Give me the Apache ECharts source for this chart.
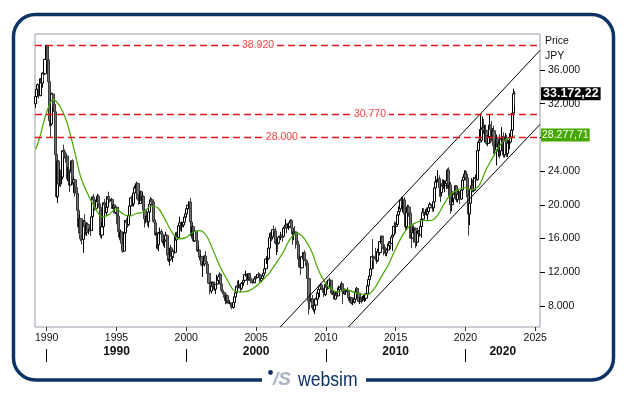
<!DOCTYPE html>
<html><head><meta charset="utf-8">
<script src="https://cdn.jsdelivr.net/npm/echarts@6/dist/echarts.min.js"></script>
<style>html,body{margin:0;padding:0;background:#fff}#c{width:629px;height:394px}</style>
</head><body><div id="c"></div>
<script>
// ---- data (Nikkei 225, monthly, read/estimated from the picture) ----
const startMonth = '1989-03';
const firstOpen = 31986;
const closes = [
32839,33714,34267,32949,34954,34431,35637,35549,37269,38916,
37189,34592,29980,29585,33131,31940,31036,25978,20984,25194,22455,23849,
23293,26409,26292,26111,25790,23291,24121,22336,23916,25222,22687,22984,
22023,21339,19346,17390,18348,15952,15910,18061,17399,16767,17684,16925,
17024,16953,18591,20919,20552,19590,20380,21027,20106,19704,16408,17417,
20229,19997,19112,19725,20974,20644,20462,20629,19564,19990,19076,19723,
18650,17053,16140,16807,15437,14517,16678,18117,17913,17655,18744,19868,
20813,20125,21407,22041,21956,22531,20692,20167,21556,20467,21020,19361,
18330,18557,18003,19151,20069,20605,20331,18229,17888,16459,16636,15259,
16628,16832,16527,15641,15671,15830,16379,14108,13406,13565,14884,13842,
14499,14368,15837,16702,16112,17530,17862,17437,17605,17942,18558,18934,
19540,19960,20337,17974,16332,17411,15727,16861,15747,14539,14649,13786,
13843,12883,12999,13934,13262,12969,11861,10713,9775,10366,10697,10543,
9997,10587,11025,11493,11764,10622,9877,9619,9383,8640,9216,8579,
8340,8363,7973,7831,8425,9083,9563,10344,10219,10560,10101,10677,
10783,11042,11715,11762,11236,11859,11326,11082,10824,10771,11231,11489,
11388,11741,11669,11009,11277,11584,11900,12414,13574,13607,14872,16111,
16650,16205,17060,16906,15467,15506,15457,16141,16128,16399,16274,17226,
17383,17604,17288,17400,17876,18138,17249,16569,16786,16738,15681,15308,
13592,13603,12526,13850,14339,13481,13377,13073,11260,8577,8512,8860,
7994,7568,8110,8828,9523,9958,10357,10493,10133,10035,9346,10546,
10198,10126,11090,11057,9769,9383,9537,8824,9369,9202,9937,10229,
10238,10624,9755,9850,9694,9816,9833,8955,8700,8988,8435,8455,
8803,9723,10084,9521,8543,9007,8695,8840,8870,8928,9446,10395,
11139,11559,12398,13861,13775,13677,13668,13389,14456,14328,15662,16291,
14915,14841,14828,14304,14632,15162,15621,15425,16174,16414,17460,17451,
17674,18798,19207,19520,20563,20236,20585,18890,17388,19083,19747,19034,
17518,16027,16759,16666,17235,15576,16569,16887,16450,17425,18308,19114,
19041,19119,18909,19197,19651,20033,19925,19646,20356,22012,22725,22765,
23098,22068,21454,22468,22202,22305,22554,22865,24120,21920,22351,20015,
20773,21385,21206,22259,20601,21276,21522,20704,21756,22927,23294,23657,
23205,21143,18917,20194,21878,22288,21710,23140,23185,22977,26434,27444,
27663,28966,29179,28813,28860,28792,27284,28090,29453,28893,27822,28792,
27002,26527,27821,26848,27280,26393,27802,28092,25937,27587,27969,26095,
27327,27446,28041,28856,30888,33189,33172.22
];
const highs = [
32900,33800,34400,34300,35000,35300,35700,36000,37300,38957,
38950,37500,34700,30200,33300,33300,33200,31100,26500,25400,25300,24300,
24200,26500,27150,26600,26300,25800,24500,24200,24100,25300,25400,23300,
23000,22100,21500,19400,18900,18400,16400,18200,18900,17500,17900,17900,
17200,17500,18700,21000,21300,20800,20600,21300,21200,20500,19800,18000,
20300,20700,20300,19800,21000,21552,20900,20800,20700,20100,20000,19800,
19800,18900,17100,17000,16900,15600,16800,18200,18400,18000,18800,19900,
20900,21100,21500,22300,22300,22750,22600,21200,21700,21600,21400,21100,
19500,18700,18900,19200,20200,20900,20800,20400,18600,17900,16800,16700,
16800,17300,17100,16600,15900,15900,16800,16500,14200,13900,15200,14900,
14600,14600,16400,16800,16900,17700,18600,18000,18000,18000,18700,19000,
19600,20000,20400,20833,18000,17600,17500,16900,16900,15800,15100,14700,
14100,13900,13300,14000,14500,13600,13000,12100,10900,10900,10900,10900,
10900,10600,11700,11600,11979,11800,10700,10100,9800,9400,9300,9300,
8800,8700,8400,8200,8500,9200,10000,10400,11000,11100,10600,10700,
11000,11100,11800,12195,11800,11900,11900,11300,11300,11100,11300,11500,
11600,11800,12000,11900,11300,11600,11950,12500,13600,13900,14900,16400,
16700,16700,17100,17563,17300,15900,15700,16300,16400,16800,16400,17300,
17600,18300,17800,17800,17900,18300,18262,17400,16800,17500,16800,16000,
15400,14000,13700,13900,14400,14601,13600,13400,13200,11400,9500,8900,
9300,8100,8600,9000,9600,10170,10400,10700,10600,10300,10100,10700,
10982,10300,11100,11408,11100,10300,9800,9600,9700,9700,10200,10400,
10600,10900,10700,9900,10100,9900,10200,9900,9100,9100,9000,8800,
8900,9900,10255,10100,9600,9100,9100,9200,9300,9100,9500,10400,
11200,11600,12600,13900,15942,14000,14900,14100,14800,14800,15700,16320,
16320,15000,15300,15000,14800,15400,15700,15600,16300,16500,17500,18030,
17900,18800,19800,20100,20600,20952,20900,20900,18900,19100,20000,20000,
19100,17900,17300,17600,17300,17000,16900,17000,17100,17500,18400,19600,
19600,19500,19700,19300,19900,20300,20200,20100,20500,22100,23400,23000,
24129,23500,22500,22500,23050,23000,22900,23000,24300,24448,22700,22700,
20900,21600,21860,22300,22300,21300,21800,21600,22100,23000,23600,24091,
24115,23995,21700,20400,22000,23185,23000,23300,23600,23700,26800,27600,
28979,30714,30500,30200,29500,29500,28900,28300,30795,29500,29960,29100,
29388,27500,28338,28000,27500,28389,27900,29222,28600,27600,28500,28300,
27500,27700,28500,29100,31500,33772,33500
];
const lows = [
31500,32500,33600,32600,32900,34300,33900,34700,35400,37200,
36900,33300,29300,28000,29400,31500,30800,25800,20800,20221,22300,22200,
22100,23000,25600,25500,25000,23000,22800,21500,22300,23800,22400,21400,
21000,20800,19200,16600,17000,15700,15300,14309,17200,16400,16300,16700,
16500,16300,16900,18500,20000,19300,19400,20300,19800,19500,16100,16000,
17300,19300,19000,18700,19600,20500,20300,20300,19500,19500,19000,18900,
17700,16800,15800,15500,15300,14295,14400,16600,17400,17300,17500,18700,
19700,19800,19800,21300,21500,21900,20500,20000,20100,20300,20400,19300,
17300,17800,17500,17300,19100,19900,19900,18000,17300,16300,14800,14700,
14500,16100,16100,15400,15100,14900,15800,14000,13200,12787,13500,13700,
13200,13700,14200,15800,15900,16100,17500,16900,16800,17300,17900,18100,
18500,19200,19500,17800,16000,16300,15600,15600,15700,14400,14200,13400,
13100,12700,11433,12700,13200,12600,11600,10600,9380,9500,10000,9900,
9800,9420,10500,10900,11300,10100,9700,9400,9000,8200,8300,8500,
8300,8200,7800,7604,7700,8400,9000,9500,10200,10100,9600,9900,
10500,10400,10900,11500,10500,11000,11000,10700,10800,10600,10700,10800,
11200,11300,11500,10800,10800,11200,11500,11700,12400,13000,13500,14800,
15300,15700,15900,16800,15300,14045,14400,15300,15600,15800,15600,16100,
17000,17300,16600,17200,17000,17700,17100,15262,15800,16400,14800,15100,
12573,12700,11691,12500,13500,13400,12700,12600,11200,6995,7600,7800,
7700,7300,7055,8000,8700,9300,9050,10100,9900,9600,9076,9200,
10100,9900,10100,10900,9500,9300,9100,8800,8800,9100,9100,9900,
10100,10100,8227,9400,9300,9300,9700,8600,8400,8300,8200,8100,
8300,8800,9600,9400,8500,8238,8300,8500,8700,8500,8600,9400,
10300,10900,11500,11800,13300,12400,13600,13000,13200,13800,14000,15400,
14800,13995,14200,13900,13900,14600,15100,14700,15400,14530,16400,16700,
16600,17500,18700,19000,19300,19900,19100,17700,16901,17100,19000,18600,
16000,14865,16000,15500,16000,14864,15100,16000,16200,16400,16100,18200,
18700,18800,18700,18200,19100,19600,19800,19200,19200,20300,21900,22100,
22700,20950,20350,21000,21900,21900,21500,21900,22300,20971,21200,18948,
19241,20300,20900,21000,20300,20300,21000,20100,20600,21300,22900,23000,
22900,20900,16358,17600,19400,21500,21500,21500,23000,22900,22900,26000,
27000,27600,28300,28400,27400,28000,27100,26954,28000,27300,27500,27600,
26044,25800,24681,26300,25700,25500,25800,27400,25600,25621,27500,25700,
25662,27000,26600,27500,28600,30700,31800
];
// 24-month moving average (green), estimated
const maDates = ['1989-03','1989-06','1989-12','1990-06','1990-12','1991-06','1991-12','1992-06','1992-12',
'1993-06','1993-12','1994-06','1994-12','1995-06','1995-12','1996-06','1996-12','1997-06','1997-12',
'1998-06','1998-12','1999-06','1999-12','2000-06','2000-12','2001-06','2001-12','2002-06','2002-12',
'2003-06','2003-12','2004-06','2004-12','2005-06','2005-12','2006-06','2006-12','2007-06','2007-12',
'2008-06','2008-12','2009-06','2009-12','2010-06','2010-12','2011-06','2011-12','2012-06','2012-12',
'2013-06','2013-12','2014-06','2014-12','2015-06','2015-12','2016-06','2016-12','2017-06','2017-12',
'2018-06','2018-12','2019-06','2019-12','2020-06','2020-12','2021-06','2021-12','2022-06','2022-12',
'2023-06','2023-07'];
const maValues = [26600,27750,30780,32510,31670,29740,26600,23180,21230,
19670,18580,18840,19530,18910,18660,19000,19160,19830,19650,
18330,16790,15970,16110,16710,16930,16300,14450,12530,11030,
9780,9680,9800,10280,11050,11930,13150,14440,15980,16640,
15960,14550,12310,10750,9920,9650,9980,9670,9420,9340,
10030,11460,12840,14640,16290,17420,17880,18140,18130,18660,
20070,21280,21770,22030,21780,22250,24110,25630,27060,27830,
27980,28277.71];
const levels = [38920, 30770, 28000];
const upperChannel = [[2006.73, 5509], [2025.34, 38320]];
const lowerChannel = [[2011.61, 5509], [2025.34, 29540]];
const yearTicks = [1990, 1995, 2000, 2005, 2010, 2015, 2020, 2025];
const priceTicks = [8000, 12000, 16000, 20000, 24000, 28000, 32000, 36000];
const decades = [1990, 2000, 2010, 2020];

// ---- layout / style config ----
const X_MIN = 1989.162, X_MAX = 2025.34, Y_MIN = 5509, Y_MAX = 40266;
const levelLabelAt = [2005.14, 2013.16, 2006.85];
const FONT = '"Liberation Sans", Arial, sans-serif';
const NAVY = '#0d3264', RED = '#e8141b', GREEN = '#45a800';

const fmtThousands = v => String(Math.round(v)).replace(/\B(?=(\d{3})+(?!\d))/g, '.');
const fmtPrice = v => { const p = v.toFixed(2).split('.'); return fmtThousands(+p[0]) + ',' + p[1]; };
const ym = s => { const a = s.split('-').map(Number); return a[0] + (a[1] - 0.5) / 12; };

const t0 = ym(startMonth);
const candles = closes.map((c, i) => [t0 + i / 12, i === 0 ? firstOpen : closes[i - 1], c, lows[i], highs[i]]);
const ma = maDates.map((d, i) => [ym(d), maValues[i]]);
const lastClose = closes[closes.length - 1];
const lastMA = maValues[maValues.length - 1];
const decadeMids = decades.map(d => (d + Math.min(d + 10, X_MAX)) / 2);

const chart = echarts.init(document.getElementById('c'));
chart.setOption({
  animation: false,
  textStyle: { fontFamily: FONT },
  grid: { left: 35, right: 89, top: 34, bottom: 67, show: true, borderColor: '#9a9aaa', borderWidth: 1, outerBoundsMode: 'none' },
  xAxis: [{
    type: 'value', min: X_MIN, max: X_MAX, position: 'bottom',
    axisLine: { show: false }, splitLine: { show: false },
    axisTick: { show: true, customValues: yearTicks, length: 4, lineStyle: { color: '#333' } },
    axisLabel: { customValues: yearTicks, formatter: v => String(Math.round(v)), fontSize: 10.5, color: '#111', margin: 6, fontFamily: FONT }
  }, {
    type: 'value', min: X_MIN, max: X_MAX, position: 'bottom', offset: 22,
    axisLine: { show: false }, splitLine: { show: false },
    axisTick: { show: true, customValues: decades, length: 13, lineStyle: { color: '#000' } },
    axisLabel: { customValues: decadeMids, formatter: v => String(Math.floor(v / 10) * 10), fontSize: 12, fontWeight: 'bold', color: '#111', margin: -3, fontFamily: FONT }
  }],
  yAxis: {
    type: 'value', position: 'right', min: Y_MIN, max: Y_MAX,
    axisLine: { show: false }, splitLine: { show: false },
    axisTick: { show: true, customValues: priceTicks, length: 5, lineStyle: { color: '#000' } },
    axisLabel: { customValues: priceTicks, formatter: v => fmtThousands(v), fontSize: 10.5, color: '#111', margin: 8, fontFamily: FONT }
  },
  series: [{
    type: 'candlestick', data: candles, barWidth: 2.6, z: 2,
    itemStyle: { color: '#ffffff', color0: '#6e6e6e', borderColor: '#000000', borderColor0: '#3a3a3a', borderWidth: 1 },
    markLine: {
      silent: true, symbol: ['none', 'none'], animation: false,
      data: levels.map(v => ({ yAxis: v, lineStyle: { color: RED, type: [7, 4], width: 1.3 }, label: { show: false } })).concat([{
        yAxis: lastClose, lineStyle: { color: 'rgba(0,0,0,0)', width: 0 },
        label: { show: true, position: 'end', distance: 1, formatter: () => fmtPrice(lastClose), backgroundColor: '#000', color: '#fff',
          fontWeight: 'bold', fontSize: 12.5, lineHeight: 13, padding: [0, 2, 0, 2], fontFamily: FONT }
      }])
    }
  }, {
    type: 'line', data: ma, smooth: 0.3, symbol: 'none', z: 3,
    lineStyle: { color: GREEN, width: 1.2 },
    markLine: {
      silent: true, symbol: ['none', 'none'], animation: false,
      data: [{ yAxis: lastMA, lineStyle: { color: 'rgba(0,0,0,0)', width: 0 },
        label: { show: true, position: 'end', distance: 1, formatter: () => fmtPrice(lastMA), backgroundColor: GREEN, color: '#fff',
          fontSize: 10.5, lineHeight: 13, padding: [0, 1, 0, 1], fontFamily: FONT } }]
    }
  }, {
    type: 'line', data: upperChannel, symbol: 'none', z: 3, lineStyle: { color: '#000', width: 1 }
  }, {
    type: 'line', data: lowerChannel, symbol: 'none', z: 3, lineStyle: { color: '#000', width: 1 }
  }, {
    type: 'scatter', z: 6, symbolSize: 1, itemStyle: { color: 'rgba(0,0,0,0)' },
    data: levels.map((v, i) => [levelLabelAt[i], v]),
    label: { show: true, position: 'inside', formatter: p => fmtThousands(p.value[1]), color: RED, backgroundColor: '#fff',
      padding: [1, 3], fontSize: 10.5, fontFamily: FONT }
  }],
  graphic: [
    { type: 'rect', silent: true, shape: { x: 13.5, y: 14.5, width: 600, height: 365.5, r: 22 }, style: { fill: 'none', stroke: NAVY, lineWidth: 3.5 } },
    { type: 'rect', silent: true, shape: { x: 262, y: 372, width: 104, height: 18 }, style: { fill: '#fff' } },
    { type: 'circle', silent: true, shape: { cx: 270.5, cy: 372.5, r: 2.4 }, style: { fill: NAVY } },
    { type: 'text', silent: true, x: 273, y: 380, style: { text: '/S', font: 'italic bold 19px ' + FONT, fill: '#a9b5c6', verticalAlign: 'middle' } },
    { type: 'text', silent: true, x: 298, y: 380, scaleX: 0.88, style: { text: 'websim', font: '20px ' + FONT, fill: NAVY, verticalAlign: 'middle' } },
    { type: 'text', silent: true, x: 545, y: 41.5, style: { text: 'Price', font: '10.5px ' + FONT, fill: '#111', verticalAlign: 'middle' } },
    { type: 'text', silent: true, x: 545, y: 56.5, style: { text: 'JPY', font: '10.5px ' + FONT, fill: '#111', verticalAlign: 'middle' } }
  ]
});
</script>
</body></html>
